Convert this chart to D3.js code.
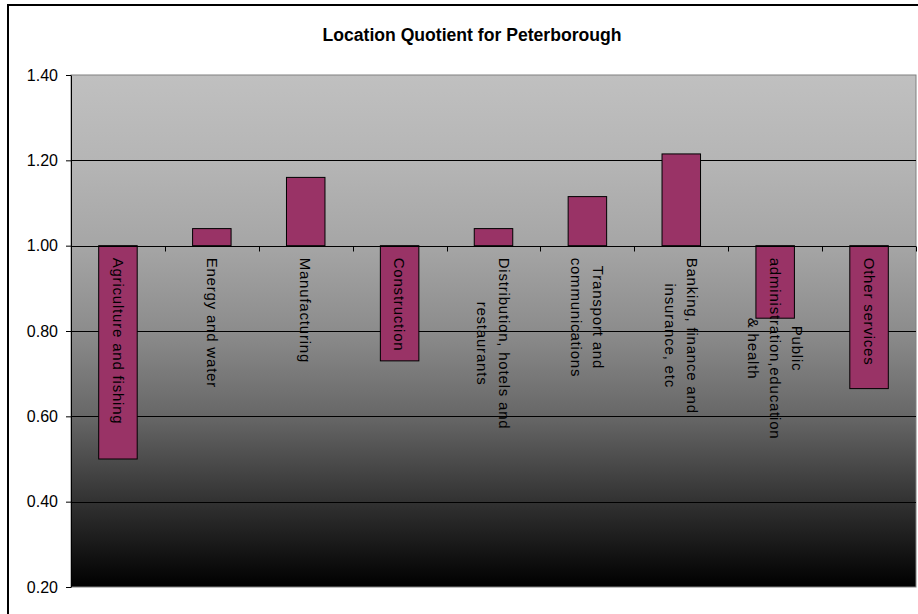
<!DOCTYPE html>
<html>
<head>
<meta charset="utf-8">
<script src="https://cdn.jsdelivr.net/npm/d3@7"></script>
<style>
  body { margin: 0; background: #fff; }
  svg { display: block; font-family: "Liberation Sans", Arial, sans-serif; }
</style>
</head>
<body>
<div id="chart"></div>
<script>
// data
const categories = [
    "Agriculture and fishing",
    "Energy and water",
    "Manufacturing",
    "Construction",
    "Distribution, hotels and\nrestaurants",
    "Transport and\ncommunications",
    "Banking, finance and\ninsurance, etc",
    "Public\nadministration,education\n& health",
    "Other services"
];
const values = [0.50, 1.04, 1.16, 0.73, 1.04, 1.115, 1.215, 0.83, 0.665];
const yTicks = [0.20, 0.40, 0.60, 0.80, 1.00, 1.20, 1.40];
const baseline = 1.00;
const title = "Location Quotient for Peterborough";

const WIDTH = 918, HEIGHT = 614;
const PLOT = {left: 71, right: 916, top: 75, bottom: 587};

let svg = d3.select("#chart")
    .append("svg")
    .attr("width", WIDTH)
    .attr("height", HEIGHT);

// outer chart border (runs past the window edge)
svg.append("rect")
    .attr("x", 8).attr("y", 5)
    .attr("width", 960).attr("height", 640)
    .attr("fill", "#fff")
    .attr("stroke", "#000")
    .attr("stroke-width", 2);

svg.append("text")
    .attr("x", 472).attr("y", 41)
    .attr("text-anchor", "middle")
    .attr("font-weight", "bold")
    .attr("font-size", "17.6px")
    .text(title);

let defs = svg.append("defs");
let grad = defs.append("linearGradient")
    .attr("id", "bg")
    .attr("x1", 0).attr("y1", 0).attr("x2", 0).attr("y2", 1);
[[0, "#c0c0c0"], [0.17, "#b5b5b5"], [0.33, "#a6a6a6"], [0.5, "#8c8c8c"],
 [0.67, "#666666"], [0.83, "#333333"], [1, "#000000"]].forEach(s => {
    grad.append("stop").attr("offset", s[0]).attr("stop-color", s[1]);
});

let y = d3.scaleLinear()
    .domain([0.2, 1.4])
    .range([PLOT.bottom, PLOT.top]);

let x = d3.scaleBand()
    .domain(categories)
    .range([PLOT.left, PLOT.right])
    .paddingInner(0.59)
    .paddingOuter(0.295);

let xCat = d3.scaleBand()
    .domain(categories)
    .range([PLOT.left, PLOT.right]);

// plot area
svg.append("rect")
    .attr("x", PLOT.left).attr("y", PLOT.top)
    .attr("width", PLOT.right - PLOT.left)
    .attr("height", PLOT.bottom - PLOT.top)
    .attr("fill", "url(#bg)")
    .attr("stroke", "#808080")
    .attr("stroke-width", 1);

// gridlines
svg.append("g")
    .selectAll("line")
    .data(yTicks.filter(d => d > 0.2 && d < 1.4))
    .join("line")
    .attr("x1", PLOT.left).attr("x2", PLOT.right)
    .attr("y1", d => Math.round(y(d)) + 0.5)
    .attr("y2", d => Math.round(y(d)) + 0.5)
    .attr("stroke", "#000")
    .attr("stroke-width", 1);

// bars
svg.append("g")
    .selectAll("rect")
    .data(values)
    .join("rect")
    .attr("x", (d, i) => x(categories[i]))
    .attr("width", x.bandwidth())
    .attr("y", d => y(Math.max(d, baseline)))
    .attr("height", d => Math.abs(y(d) - y(baseline)))
    .attr("fill", "#993366")
    .attr("stroke", "#000")
    .attr("stroke-width", 1);

// category axis crossing at 1.00
let yb = Math.round(y(baseline)) + 0.5;
let catAxis = svg.append("g");
catAxis.append("line")
    .attr("x1", PLOT.left).attr("x2", PLOT.right)
    .attr("y1", yb).attr("y2", yb)
    .attr("stroke", "#000");
catAxis.selectAll("line.tick")
    .data(categories.map(c => xCat(c)).concat([PLOT.right]))
    .join("line")
    .attr("class", "tick")
    .attr("x1", d => Math.round(d) + 0.5).attr("x2", d => Math.round(d) + 0.5)
    .attr("y1", yb).attr("y2", yb + 5)
    .attr("stroke", "#000");

// rotated category labels
const LINE_GAP = 22;
categories.forEach(c => {
    let lines = c.split("\n");
    let cx = xCat(c) + xCat.bandwidth() / 2;
    let t = catAxis.append("text")
        .attr("transform", `translate(${cx},${y(baseline) + 12}) rotate(90)`)
        .attr("font-size", "15px")
        .attr("letter-spacing", "0.8px")
        .attr("fill", "#000");
    let spans = lines.map((l, i) => t.append("tspan")
        .attr("y", (i - (lines.length - 1) / 2) * LINE_GAP)
        .attr("dy", "0.35em")
        .text(l));
    let lens = spans.map(s => s.node().getComputedTextLength());
    let maxLen = d3.max(lens);
    spans.forEach((s, i) => s.attr("x", (maxLen - lens[i]) / 2));
});

// value axis
svg.append("g")
    .attr("transform", `translate(${PLOT.left},0)`)
    .call(d3.axisLeft(y).tickValues(yTicks).tickFormat(d3.format(".2f")).tickSize(5).tickSizeOuter(0))
    .call(g => g.selectAll("text").attr("font-size", "16px").attr("fill", "#000")
        .attr("font-family", "Liberation Sans, Arial, sans-serif").attr("x", -13))
    .call(g => g.selectAll("line, path").attr("stroke", "#000"));
</script>
</body>
</html>
